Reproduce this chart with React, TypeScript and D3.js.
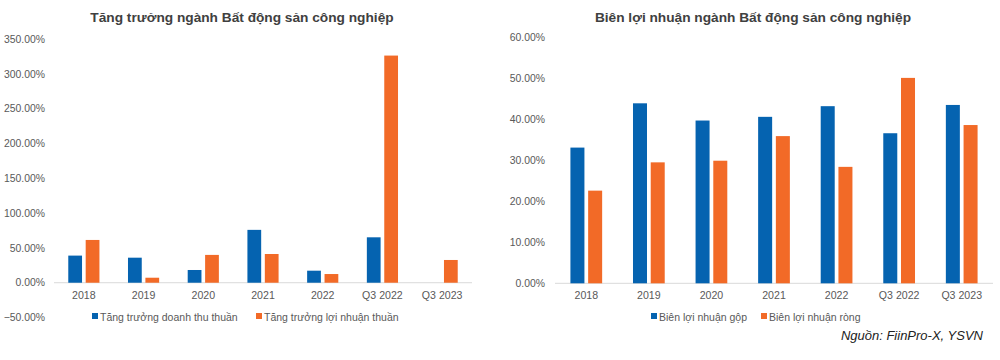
import React from 'react';
import * as d3 from 'd3';

const categories = ['2018', '2019', '2020', '2021', '2022', 'Q3 2022', 'Q3 2023'];

// Tăng trưởng (%)
const growthRevenue = [39, 36, 18.3, 76, 17.3, 65.3, null];
const growthProfit = [61.5, 7.2, 40, 41.3, 12.5, 326.6, 32.7];
const growthTicks = [-50, 0, 50, 100, 150, 200, 250, 300, 350];

// Biên lợi nhuận (%)
const grossMargin = [33.1, 43.9, 39.7, 40.6, 43.2, 36.6, 43.5];
const netMargin = [22.6, 29.5, 29.9, 35.9, 28.4, 50.1, 38.6];
const marginTicks = [0, 10, 20, 30, 40, 50, 60];

const BLUE = '#0563b0';
const ORANGE = '#f26a27';
const FONT = 'Liberation Sans, Arial, sans-serif';

type PanelProps = {
    title: string;
    titleX: number;
    series: (number | null)[][];
    names: string[];
    ticks: number[];
    yRange: [number, number];
    xRange: [number, number];
    labelX: number;
    legendX: number[];
    outerPad: number;
};

const Panel = ({ title, titleX, series, names, ticks, yRange, xRange, labelX, legendX, outerPad }: PanelProps) => {
    const y = d3.scaleLinear()
        .domain([ticks[0], ticks[ticks.length - 1]])
        .range(yRange);

    const x0 = d3.scaleBand()
        .domain(categories)
        .range(xRange)
        .padding(0);

    const x1 = d3.scaleBand()
        .domain(d3.range(series.length).map(String))
        .range([0, x0.bandwidth()])
        .paddingInner(0.21)
        .paddingOuter(outerPad);

    const colors = [BLUE, ORANGE];
    const base = y(0);

    return (
        <g fontFamily={FONT}>
            <text x={titleX} y={22} textAnchor="middle" fontSize={13.7} fontWeight="bold" fill="#404040">{title}</text>
            {ticks.map(t => (
                <text key={t} x={labelX} y={y(t)} dy="0.35em" textAnchor="end" fontSize={10.4} fill="#595959">
                    {d3.format('.2f')(t) + '%'}
                </text>
            ))}
            <line x1={xRange[0]} x2={xRange[1]} y1={base} y2={base} stroke="#d9d9d9" />
            {series.map((vals, si) => (
                <g key={si} fill={colors[si]}>
                    {vals.map((v, i) => v == null ? null : (
                        <rect key={i}
                            x={(x0(categories[i]) ?? 0) + (x1(String(si)) ?? 0)}
                            y={y(Math.max(0, v))}
                            width={x1.bandwidth()}
                            height={Math.abs(y(v) - base)} />
                    ))}
                </g>
            ))}
            {categories.map(c => (
                <text key={c} x={(x0(c) ?? 0) + x0.bandwidth() / 2} y={base + 16} textAnchor="middle" fontSize={10.6} fill="#595959">{c}</text>
            ))}
            {names.map((n, i) => (
                <g key={n}>
                    <rect x={legendX[i]} y={313} width={6} height={6} fill={colors[i]} />
                    <text x={legendX[i] + 8} y={317} dy="0.35em" fontSize={10.5} fill="#595959">{n}</text>
                </g>
            ))}
        </g>
    );
};

const App = () => {
    return (
        <div style={{ position: 'absolute', left: 0, top: 0 }}>
            <svg width={1000} height={360} style={{ display: 'block', background: '#fff' }}>
                <Panel
                    title="Tăng trưởng ngành Bất động sản công nghiệp"
                    titleX={242}
                    series={[growthRevenue, growthProfit]}
                    names={['Tăng trưởng doanh thu thuần', 'Tăng trưởng lợi nhuận thuần']}
                    ticks={growthTicks}
                    yRange={[317.5, 39.3]}
                    xRange={[54, 472]}
                    labelX={45}
                    legendX={[92, 256]}
                    outerPad={0.82}
                />
                <Panel
                    title="Biên lợi nhuận ngành Bất động sản công nghiệp"
                    titleX={753}
                    series={[grossMargin, netMargin]}
                    names={['Biên lợi nhuận gộp', 'Biên lợi nhuận ròng']}
                    ticks={marginTicks}
                    yRange={[283.3, 37.3]}
                    xRange={[555, 993]}
                    labelX={545}
                    legendX={[651, 761]}
                    outerPad={0.87}
                />
                <text x={983} y={340} textAnchor="end" fontFamily={FONT} fontStyle="italic" fontSize={13} fill="#222">Nguồn: FiinPro-X, YSVN</text>
            </svg>
        </div>
    );
};

export default App;
